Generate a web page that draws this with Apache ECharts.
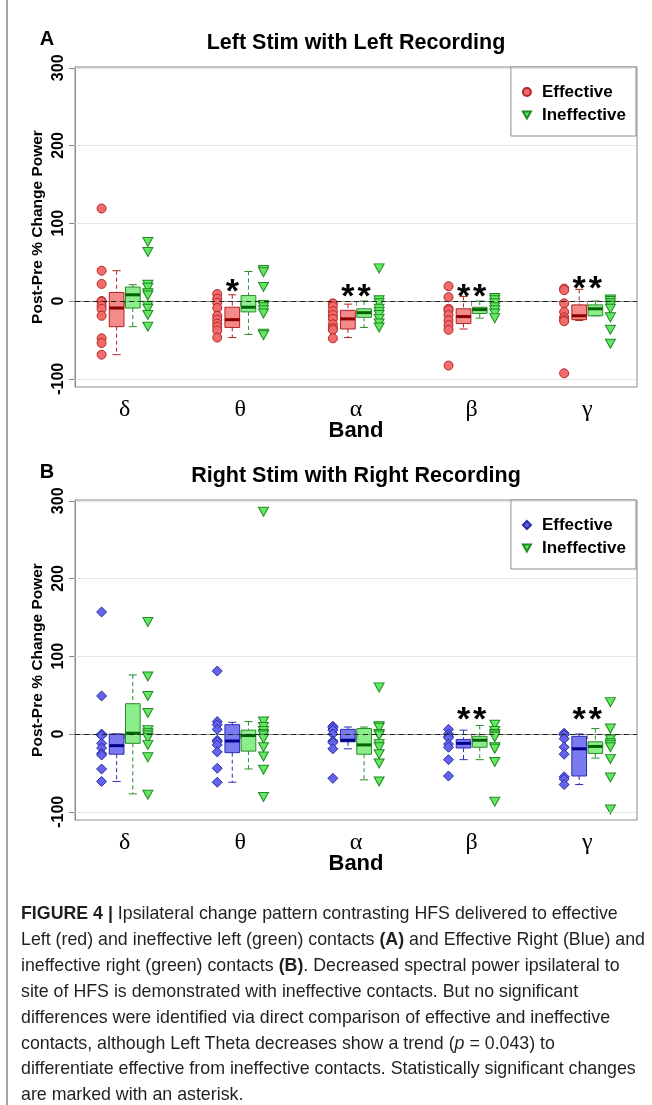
<!doctype html>
<html>
<head>
<meta charset="utf-8">
<title>Ipsilateral change pattern</title>
<script src="https://cdn.jsdelivr.net/npm/echarts@6/dist/echarts.min.js"></script>
<style>
  body { margin: 0; background: #fff; }
  #page { position: relative; width: 652px; height: 1105px; overflow: hidden; }
  #frame { position: absolute; left: 6px; top: 0; width: 2px; height: 1105px; background: #a3a3a3; }
  .chart { position: absolute; left: 0; width: 652px; height: 460px; }
  #caption {
    position: absolute; left: 21px; top: 901px; width: 630px;
    font-family: "Liberation Sans", Arial, sans-serif; font-size: 17.8px;
    line-height: 25.9px; color: #231f20; white-space: nowrap;
  }
  #caption b { font-weight: bold; }
</style>
</head>
<body>
<div id="page">
  <div id="frame"></div>
  <div id="chartA" class="chart" style="top:0"></div>
  <div id="chartB" class="chart" style="top:433px"></div>
  <div id="caption">
    <b>FIGURE 4 |</b> Ipsilateral change pattern contrasting HFS delivered to effective<br>
    Left (red) and ineffective left (green) contacts <b>(A)</b> and Effective Right (Blue) and<br>
    ineffective right (green) contacts <b>(B)</b>. Decreased spectral power ipsilateral to<br>
    site of HFS is demonstrated with ineffective contacts. But no significant<br>
    differences were identified via direct comparison of effective and ineffective<br>
    contacts, although Left Theta decreases show a trend (<i>p</i> = 0.043) to<br>
    differentiate effective from ineffective contacts. Statistically significant changes<br>
    are marked with an asterisk.
  </div>
</div>
<script>
// bands on the x axis
var bands = ['δ', 'θ', 'α', 'β', 'γ'];
var yTicks = [-100, 0, 100, 200, 300];

// --- panel A: left stim, left recording ---
var leftEffPts = [
  [119, 39, 22, 0, -1, -6, -10, -19, -48, -54, -69],
  [9, 3, -2, -9, -19, -24, -29, -33, -38, -47],
  [-3, -7, -13, -18, -23, -30, -35, -37, -48],
  [19, 5, -10, -12, -18, -25, -31, -37, -83],
  [16, 14, -3, -14, -21, -24, -26, -93]
];
var leftIneffPts = [
  [76, 63, 21, 17, 10, 7, -6, -10, -18, -33],
  [40, 37, 18, -5, -8, -12, -16, -42, -44],
  [42, 1, -3, -10, -14, -18, -23, -29, -34],
  [4, 1, -3, -8, -12, -16, -22],
  [2, 0, -3, -6, -10, -21, -37, -55]
];
// [low whisker, q1, median, q3, high whisker]
var leftEffBox = [
  [-69, -33, -9, 11, 39],
  [-47, -34, -24, -8, 8],
  [-47, -36, -23, -12, -4],
  [-36, -29, -20, -10, 6],
  [-25, -24, -19, -5, 15]
];
var leftIneffBox = [
  [-33, -9, 8, 18, 21],
  [-43, -14, -8, 7, 38],
  [-34, -21, -15, -10, 0],
  [-22, -16, -11, -8, 0],
  [-19, -19, -10, -5, 0]
];
var leftEffStars = [null, 21, 15, 15, 25];
var leftIneffStars = [null, null, 15, 15, 25];

// --- panel B: right stim, right recording ---
var rightEffPts = [
  [157, 49, 0, -2, -12, -18, -25, -27, -45, -61],
  [81, 16, 12, 6, -8, -10, -14, -23, -44, -62],
  [10, 8, 5, 0, -9, -11, -19, -57],
  [6, 0, -3, -5, -13, -17, -33, -54],
  [1, -1, -6, -17, -26, -55, -58, -65]
];
var rightIneffPts = [
  [144, 74, 49, 27, 5, 1, -2, -5, -14, -30, -78],
  [286, 16, 9, 4, 0, -2, -6, -17, -29, -46, -81],
  [60, 10, 8, 0, -2, -13, -17, -26, -38, -61],
  [12, 4, 0, -2, -4, -17, -19, -36, -87],
  [41, 7, -7, -12, -14, -17, -32, -56, -97]
];
var rightEffBox = [
  [-61, -26, -15, 0, 0],
  [-62, -24, -9, 12, 15],
  [-19, -10, -8, 6, 9],
  [-33, -18, -12, -7, 5],
  [-65, -54, -19, -3, 0]
];
var rightIneffBox = [
  [-77, -12, 1, 39, 76],
  [-45, -22, -2, 5, 16],
  [-59, -26, -14, 7, 9],
  [-33, -17, -8, -3, 11],
  [-31, -25, -16, -10, 7]
];
var rightEffStars = [null, null, null, 27, 27];
var rightIneffStars = [null, null, null, 27, 27];

var BOX_OFF = 0.07, PT_OFF = 0.2, BOX_W = 0.127, CAP_W = 0.07;
var TRI_DOWN = 'path://M0,0L10,0L5,8.66Z';

var red = { fill: 'rgba(239,88,88,0.7)', edge: '#b22222', median: '#8b0000', pt: '#f26b6b', ptEdge: '#b52525' };
var green = { fill: 'rgba(90,230,90,0.7)', edge: '#2a8a2a', median: '#006400', pt: '#62e862', ptEdge: '#218a21' };
var blue = { fill: 'rgba(72,72,235,0.72)', edge: '#2b2bb0', median: '#00008b', pt: '#6464ea', ptEdge: '#2b2ba8' };

function pointsData(lists, off) {
  var out = [];
  lists.forEach(function (vals, i) {
    vals.forEach(function (v) { out.push([i + 1 + off, v]); });
  });
  return out;
}
function boxData(stats, off) {
  return stats.map(function (s, i) { return [i + 1 + off].concat(s); });
}
function starData(stars, off) {
  var out = [];
  stars.forEach(function (v, i) { if (v !== null) out.push([i + 1 + off, v]); });
  return out;
}

function boxRender(c) {
  return function (params, api) {
    var x = api.value(0);
    var lo = api.coord([x, api.value(1)]);
    var q1 = api.coord([x, api.value(2)]);
    var md = api.coord([x, api.value(3)]);
    var q3 = api.coord([x, api.value(4)]);
    var hi = api.coord([x, api.value(5)]);
    var w = api.size([BOX_W, 0])[0];
    var cw = api.size([CAP_W, 0])[0];
    var cx = lo[0];
    var dash = { stroke: c.edge, lineWidth: 1, lineDash: [4, 3] };
    var solid = { stroke: c.edge, lineWidth: 1 };
    return {
      type: 'group',
      children: [
        { type: 'line', shape: { x1: cx, y1: hi[1], x2: cx, y2: q3[1] }, style: dash },
        { type: 'line', shape: { x1: cx, y1: q1[1], x2: cx, y2: lo[1] }, style: dash },
        { type: 'line', shape: { x1: cx - cw / 2, y1: hi[1], x2: cx + cw / 2, y2: hi[1] }, style: solid },
        { type: 'line', shape: { x1: cx - cw / 2, y1: lo[1], x2: cx + cw / 2, y2: lo[1] }, style: solid },
        { type: 'rect', shape: { x: cx - w / 2, y: q3[1], width: w, height: q1[1] - q3[1] },
          style: { fill: c.fill, stroke: c.edge, lineWidth: 1 } },
        { type: 'line', shape: { x1: cx - w / 2, y1: md[1], x2: cx + w / 2, y2: md[1] },
          style: { stroke: c.median, lineWidth: 3 } }
      ]
    };
  };
}

function starRender(params, api) {
  var p = api.coord([api.value(0), api.value(1)]);
  return {
    type: 'text', x: p[0], y: p[1] + 8,
    style: { text: '*', fill: '#000', align: 'center', verticalAlign: 'middle',
             font: 'bold 34px "Liberation Sans", Arial, sans-serif' }
  };
}

function drawPanel(domId, cfg) {
  var chart = echarts.init(document.getElementById(domId), null, { renderer: 'canvas' });
  var font = '"Liberation Sans", Arial, sans-serif';
  chart.setOption({
    animation: false,
    backgroundColor: 'transparent',
    graphic: [
      { type: 'text', x: 47, y: 39, style: { text: cfg.letter, align: 'center', verticalAlign: 'middle',
        font: 'bold 20px ' + font, fill: '#000' } },
      { type: 'text', x: 356, y: 43, style: { text: cfg.title, align: 'center', verticalAlign: 'middle',
        font: 'bold 21.5px ' + font, fill: '#000' } }
    ],
    grid: {
      left: 75, top: 67, width: 562, height: 320, show: true, borderColor: '#8c8c8c', borderWidth: 1,
      containLabel: false, outerBoundsMode: 'none'
    },
    legend: {
      orient: 'vertical', right: 16, top: 67,
      itemWidth: 8, itemHeight: 8, itemGap: 5,
      padding: [16, 10, 12, 11],
      borderColor: '#8c8c8c', borderWidth: 1, borderRadius: 0, backgroundColor: '#fff',
      textStyle: { fontFamily: font, fontSize: 17, fontWeight: 'bold', color: '#000', lineHeight: 18, padding: [0, 0, 0, 6] },
      data: ['Effective', 'Ineffective']
    },
    xAxis: {
      type: 'value', min: 0.57, max: 5.43,
      axisLine: { show: true, lineStyle: { color: '#8c8c8c' } },
      splitLine: { show: false },
      axisTick: { show: true, customValues: [1, 2, 3, 4, 5], length: 5, lineStyle: { color: '#8c8c8c' } },
      axisLabel: { customValues: [1, 2, 3, 4, 5], formatter: function (v) { return bands[Math.round(v) - 1]; },
        fontFamily: '"Liberation Serif", "DejaVu Serif", serif', fontSize: 24, color: '#000', margin: 11 },
      name: 'Band', nameLocation: 'middle', nameGap: 33, nameMoveOverlap: false,
      nameTextStyle: { fontFamily: font, fontSize: 22, fontWeight: 'bold', color: '#000' }
    },
    yAxis: {
      type: 'value', min: -110.6, max: 301,
      axisLine: { show: true, lineStyle: { color: '#8c8c8c' } },
      splitLine: { show: false },
      axisTick: { show: true, customValues: yTicks, length: 6, lineStyle: { color: '#8c8c8c' } },
      axisLabel: { customValues: yTicks, rotate: 90, fontFamily: font, fontSize: 16, fontWeight: 'bold', color: '#000', margin: 8 },
      name: 'Post-Pre % Change Power', nameLocation: 'middle', nameGap: 29, nameRotate: 90, nameMoveOverlap: false,
      nameTextStyle: { fontFamily: font, fontSize: 15.5, fontWeight: 'bold', color: '#000' }
    },
    series: [
      {
        type: 'custom', name: 'grid', z: 1, silent: true,
        renderItem: function () { return null; }, data: [],
        markLine: {
          symbol: 'none', silent: true, label: { show: false }, animation: false,
          data: [
            { yAxis: 300, lineStyle: { type: 'dotted', color: '#d0d0d0', width: 1 } },
            { yAxis: 200, lineStyle: { type: 'dotted', color: '#d0d0d0', width: 1 } },
            { yAxis: 100, lineStyle: { type: 'dotted', color: '#d0d0d0', width: 1 } },
            { yAxis: -100, lineStyle: { type: 'dotted', color: '#d0d0d0', width: 1 } },
            { yAxis: 0, lineStyle: { type: [5, 4], color: '#222', width: 1.2 } }
          ]
        }
      },
      {
        type: 'custom', name: 'effBox', z: 3, silent: true,
        renderItem: boxRender(cfg.effColor),
        encode: { x: 0, y: [1, 2, 3, 4, 5] },
        data: boxData(cfg.effBox, -BOX_OFF)
      },
      {
        type: 'custom', name: 'ineffBox', z: 3, silent: true,
        renderItem: boxRender(green),
        encode: { x: 0, y: [1, 2, 3, 4, 5] },
        data: boxData(cfg.ineffBox, BOX_OFF)
      },
      {
        type: 'scatter', name: 'Effective', z: 4,
        symbol: cfg.effSymbol, symbolSize: cfg.effSize,
        itemStyle: { color: cfg.effColor.pt, borderColor: cfg.effColor.ptEdge, borderWidth: 1, opacity: 1 },
        data: pointsData(cfg.effPts, -PT_OFF)
      },
      {
        type: 'scatter', name: 'Ineffective', z: 4,
        symbol: TRI_DOWN, symbolSize: [10, 9],
        itemStyle: { color: green.pt, borderColor: green.ptEdge, borderWidth: 1, opacity: 1 },
        data: pointsData(cfg.ineffPts, PT_OFF)
      },
      {
        type: 'custom', name: 'stars', z: 5, silent: true,
        renderItem: starRender,
        data: starData(cfg.effStars, -BOX_OFF).concat(starData(cfg.ineffStars, BOX_OFF))
      }
    ]
  });
  return chart;
}

drawPanel('chartA', {
  letter: 'A', title: 'Left Stim with Left Recording',
  effColor: red, effSymbol: 'circle', effSize: 9,
  effPts: leftEffPts, ineffPts: leftIneffPts,
  effBox: leftEffBox, ineffBox: leftIneffBox,
  effStars: leftEffStars, ineffStars: leftIneffStars
});
drawPanel('chartB', {
  letter: 'B', title: 'Right Stim with Right Recording',
  effColor: blue, effSymbol: 'diamond', effSize: 10,
  effPts: rightEffPts, ineffPts: rightIneffPts,
  effBox: rightEffBox, ineffBox: rightIneffBox,
  effStars: rightEffStars, ineffStars: rightIneffStars
});
</script>
</body>
</html>
